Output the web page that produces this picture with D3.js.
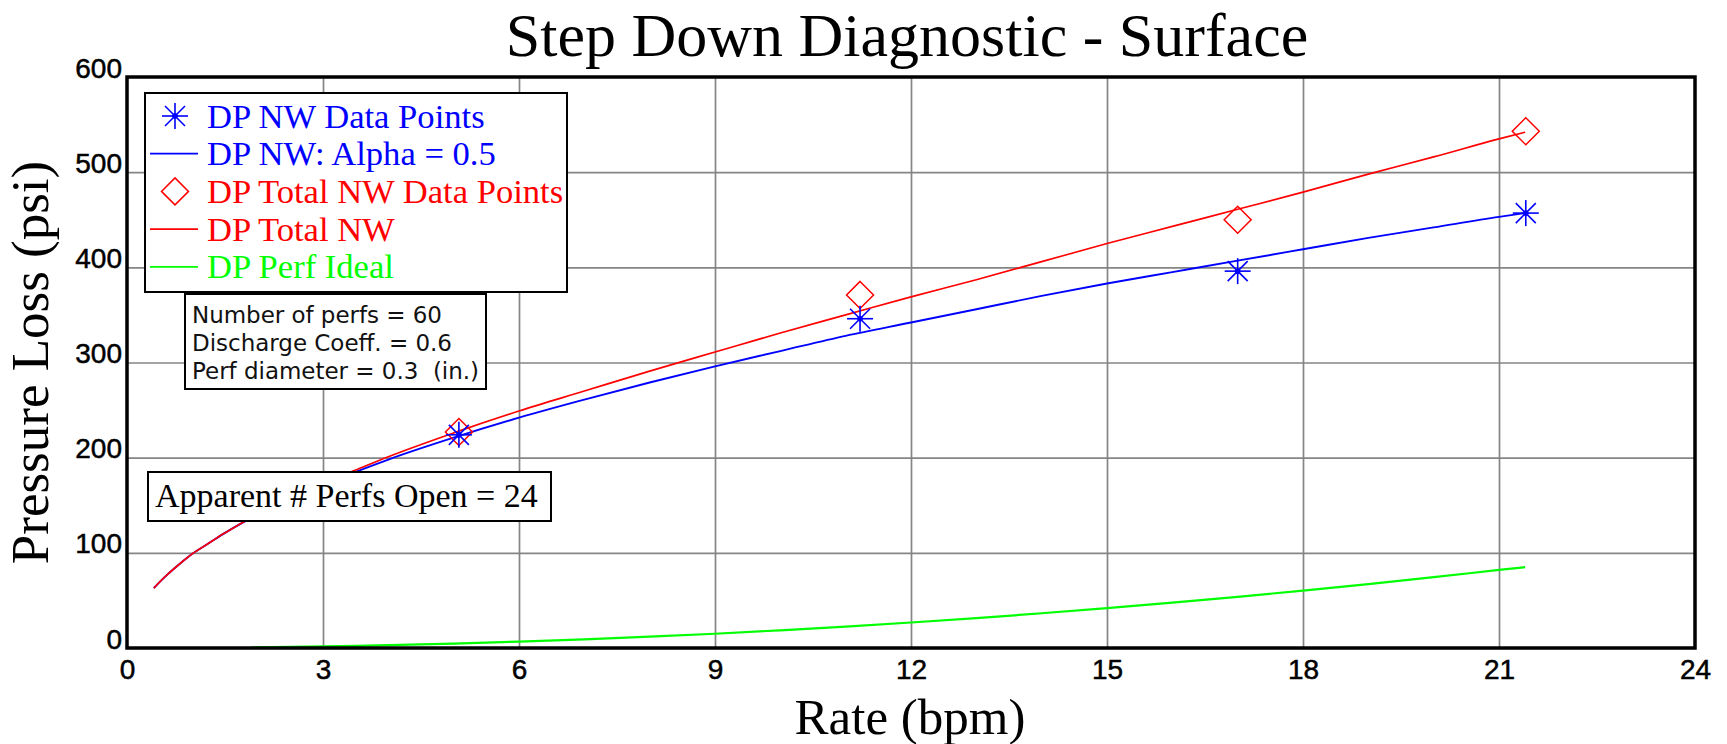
<!DOCTYPE html>
<html>
<head>
<meta charset="utf-8">
<script src="https://cdn.jsdelivr.net/npm/d3@7/dist/d3.min.js"></script>
<style>
  html, body { margin: 0; padding: 0; background: #fff; }
  svg { display: block; }
  text { white-space: pre; }
</style>
</head>
<body>
<script>
// ---------- data ----------
const xTicks = [0, 3, 6, 9, 12, 15, 18, 21, 24];
const yTicks = [0, 100, 200, 300, 400, 500, 600];

// measured step-down points
const pointRate = [5.08, 11.22, 17.0, 21.41];
const dpNWPoints = [224, 346, 396, 457];
const dpTotalPoints = [227, 371, 450, 543];

// model curves
const curveRate = [0.41, 0.6, 0.8, 1, 1.25, 1.5, 1.75, 2, 2.5, 3, 3.5, 4, 5, 6, 7, 8, 9, 10, 11, 12, 13, 14, 15, 16, 17, 18, 19, 20, 21, 21.4];
const dpNWCurve = [63, 76, 88, 99, 110, 121, 131, 140, 156, 171, 185, 198, 221, 242, 261, 279, 296, 312, 328, 342, 356, 370, 383, 395, 407, 419, 431, 442, 453, 457];
const dpTotalCurve = [63, 76, 88, 99, 110, 121, 131, 141, 157, 173, 187, 201, 226, 249, 270, 291, 311, 331, 350, 369, 387, 406, 425, 443, 461, 479, 498, 516, 535, 542];

const perfRate = [1.9, 2.5, 3, 3.5, 4, 5, 6, 7, 8, 9, 10, 11, 12, 13, 14, 15, 16, 17, 18, 19, 20, 21, 21.4];
const perfIdealCurve = [0.7, 1.2, 1.7, 2.3, 3, 4.6, 6.7, 9.1, 11.9, 15, 18.6, 22.5, 26.8, 31.4, 36.5, 41.9, 47.6, 53.8, 60.3, 67.1, 74.4, 82, 85];

const legendLabels = ["DP NW Data Points", "DP NW: Alpha = 0.5", "DP Total NW Data Points", "DP Total NW", "DP Perf Ideal"];
const legendColors = ["#0000ff", "#0000ff", "#ff0000", "#ff0000", "#00ff00"];
const legendKinds = ["star", "line", "diamond", "line", "line"];

const infoLines = ["Number of perfs = 60", "Discharge Coeff. = 0.6", "Perf diameter = 0.3  (in.)"];
const apparentText = "Apparent # Perfs Open = 24";

const titleText = "Step Down Diagnostic - Surface";
const xTitle = "Rate (bpm)";
const yTitle = "Pressure Loss (psi)";

// ---------- layout ----------
const W = 1727, H = 744;
const L = 127, R = 1695, T = 77, B = 648;
const serif = "'Liberation Serif', 'Times New Roman', serif";
const sans = "'DejaVu Sans', Verdana, sans-serif";
const tickFont = "'Liberation Sans', Arial, sans-serif";
const infoLineWidths = [250, 260, 287];

const svg = d3.select("body").append("svg").attr("width", W).attr("height", H);

const x = d3.scaleLinear().domain([0, 24]).range([L, R]);
const y = d3.scaleLinear().domain([0, 600]).range([B, T]);

// gridlines
const gx = svg.append("g").attr("transform", `translate(0,${B})`)
  .call(d3.axisBottom(x).tickValues(xTicks.slice(1, -1)).tickSize(-(B - T)).tickFormat(""));
gx.select(".domain").remove();
gx.selectAll("line").attr("stroke", "#858585").attr("stroke-width", 1.7);

const gy = svg.append("g").attr("transform", `translate(${L},0)`)
  .call(d3.axisLeft(y).tickValues(yTicks.slice(1, -1)).tickSize(-(R - L)).tickFormat(""));
gy.select(".domain").remove();
gy.selectAll("line").attr("stroke", "#858585").attr("stroke-width", 1.7);

// tick labels
const ax = svg.append("g").attr("transform", `translate(0,${B})`)
  .call(d3.axisBottom(x).tickValues(xTicks).tickSize(0).tickPadding(0).tickFormat(d3.format("d")));
ax.select(".domain").remove();
ax.selectAll("text").attr("font-family", tickFont).attr("font-size", 28).attr("fill", "#000")
  .attr("stroke", "#000").attr("stroke-width", 0.5)
  .attr("dy", null).attr("y", 31);

const ay = svg.append("g").attr("transform", `translate(${L},0)`)
  .call(d3.axisLeft(y).tickValues(yTicks).tickSize(0).tickPadding(0).tickFormat(d3.format("d")));
ay.select(".domain").remove();
ay.selectAll("text").attr("font-family", tickFont).attr("font-size", 28).attr("fill", "#000")
  .attr("stroke", "#000").attr("stroke-width", 0.5)
  .attr("dy", null).attr("x", -5).attr("y", 0);

// curves
const line = d3.line().x(d => x(d[0])).y(d => y(d[1])).curve(d3.curveMonotoneX);
const plot = svg.append("g");
plot.append("path").datum(perfRate.map((r, i) => [r, perfIdealCurve[i]]))
  .attr("d", line).attr("fill", "none").attr("stroke", "#00ff00").attr("stroke-width", 2.2);
plot.append("path").datum(curveRate.map((r, i) => [r, dpNWCurve[i]]))
  .attr("d", line).attr("fill", "none").attr("stroke", "#0000ff").attr("stroke-width", 1.9);
plot.append("path").datum(curveRate.map((r, i) => [r, dpTotalCurve[i]]))
  .attr("d", line).attr("fill", "none").attr("stroke", "#ff0000").attr("stroke-width", 1.7);

// marker helpers
function star(g, cx, cy, color) {
  const s = 13, d = 10;
  const p = g.append("g").attr("stroke", color).attr("stroke-width", 1.6);
  p.append("line").attr("x1", cx - s).attr("x2", cx + s).attr("y1", cy).attr("y2", cy);
  p.append("line").attr("x1", cx).attr("x2", cx).attr("y1", cy - s).attr("y2", cy + s);
  p.append("line").attr("x1", cx - d).attr("x2", cx + d).attr("y1", cy - d).attr("y2", cy + d);
  p.append("line").attr("x1", cx - d).attr("x2", cx + d).attr("y1", cy + d).attr("y2", cy - d);
  g.append("circle").attr("cx", cx).attr("cy", cy).attr("r", 2.8).attr("fill", color);
}
function diamond(g, cx, cy, color) {
  const s = 13.5;
  g.append("path")
    .attr("d", `M${cx},${cy - s}L${cx + s},${cy}L${cx},${cy + s}L${cx - s},${cy}Z`)
    .attr("fill", "none").attr("stroke", color).attr("stroke-width", 1.5);
}

pointRate.forEach((r, i) => diamond(plot, x(r), y(dpTotalPoints[i]), "#ff0000"));
pointRate.forEach((r, i) => star(plot, x(r), y(dpNWPoints[i]), "#0000ff"));

// info box
const info = svg.append("g");
info.append("rect").attr("x", 185).attr("y", 294).attr("width", 301).attr("height", 95)
  .attr("fill", "#fff").attr("stroke", "#000").attr("stroke-width", 2);
infoLines.forEach((t, i) => {
  info.append("text").attr("x", 192).attr("y", 323 + i * 28).text(t)
    .attr("textLength", infoLineWidths[i]).attr("lengthAdjust", "spacing")
    .attr("font-family", sans).attr("font-size", 23).attr("fill", "#111");
});

// legend
const lg = svg.append("g");
lg.append("rect").attr("x", 145).attr("y", 93).attr("width", 422).attr("height", 199)
  .attr("fill", "#fff").attr("stroke", "#000").attr("stroke-width", 2);
legendLabels.forEach((t, i) => {
  const cy = 116 + i * 37.7;
  const c = legendColors[i];
  if (legendKinds[i] === "star") star(lg, 175, cy, c);
  else if (legendKinds[i] === "diamond") diamond(lg, 175, cy, c);
  else lg.append("line").attr("x1", 150).attr("x2", 198).attr("y1", cy).attr("y2", cy)
        .attr("stroke", c).attr("stroke-width", 1.8);
  lg.append("text").attr("x", 207).attr("y", cy + 11.5).text(t)
    .attr("font-family", serif).attr("font-size", 34.6).attr("fill", c);
});

// apparent perfs box
const ap = svg.append("g");
ap.append("rect").attr("x", 148).attr("y", 472).attr("width", 403).attr("height", 49)
  .attr("fill", "#fff").attr("stroke", "#000").attr("stroke-width", 2);
ap.append("text").attr("x", 155).attr("y", 507).text(apparentText)
  .attr("font-family", serif).attr("font-size", 34).attr("fill", "#000");

// frame
svg.append("rect").attr("x", L).attr("y", T).attr("width", R - L).attr("height", B - T)
  .attr("fill", "none").attr("stroke", "#000").attr("stroke-width", 3.5);

// titles
svg.append("text").attr("x", (L + R) / 2 - 4).attr("y", 56).attr("text-anchor", "middle")
  .attr("font-family", serif).attr("font-size", 62).attr("fill", "#000").text(titleText);
svg.append("text").attr("x", (L + R) / 2 - 1).attr("y", 734).attr("text-anchor", "middle")
  .attr("font-family", serif).attr("font-size", 51).attr("fill", "#000").text(xTitle);
svg.append("text").attr("transform", `translate(48,${(T + B) / 2}) rotate(-90)`).attr("text-anchor", "middle")
  .attr("font-family", serif).attr("font-size", 53).attr("fill", "#000").text(yTitle);
</script>
</body>
</html>
